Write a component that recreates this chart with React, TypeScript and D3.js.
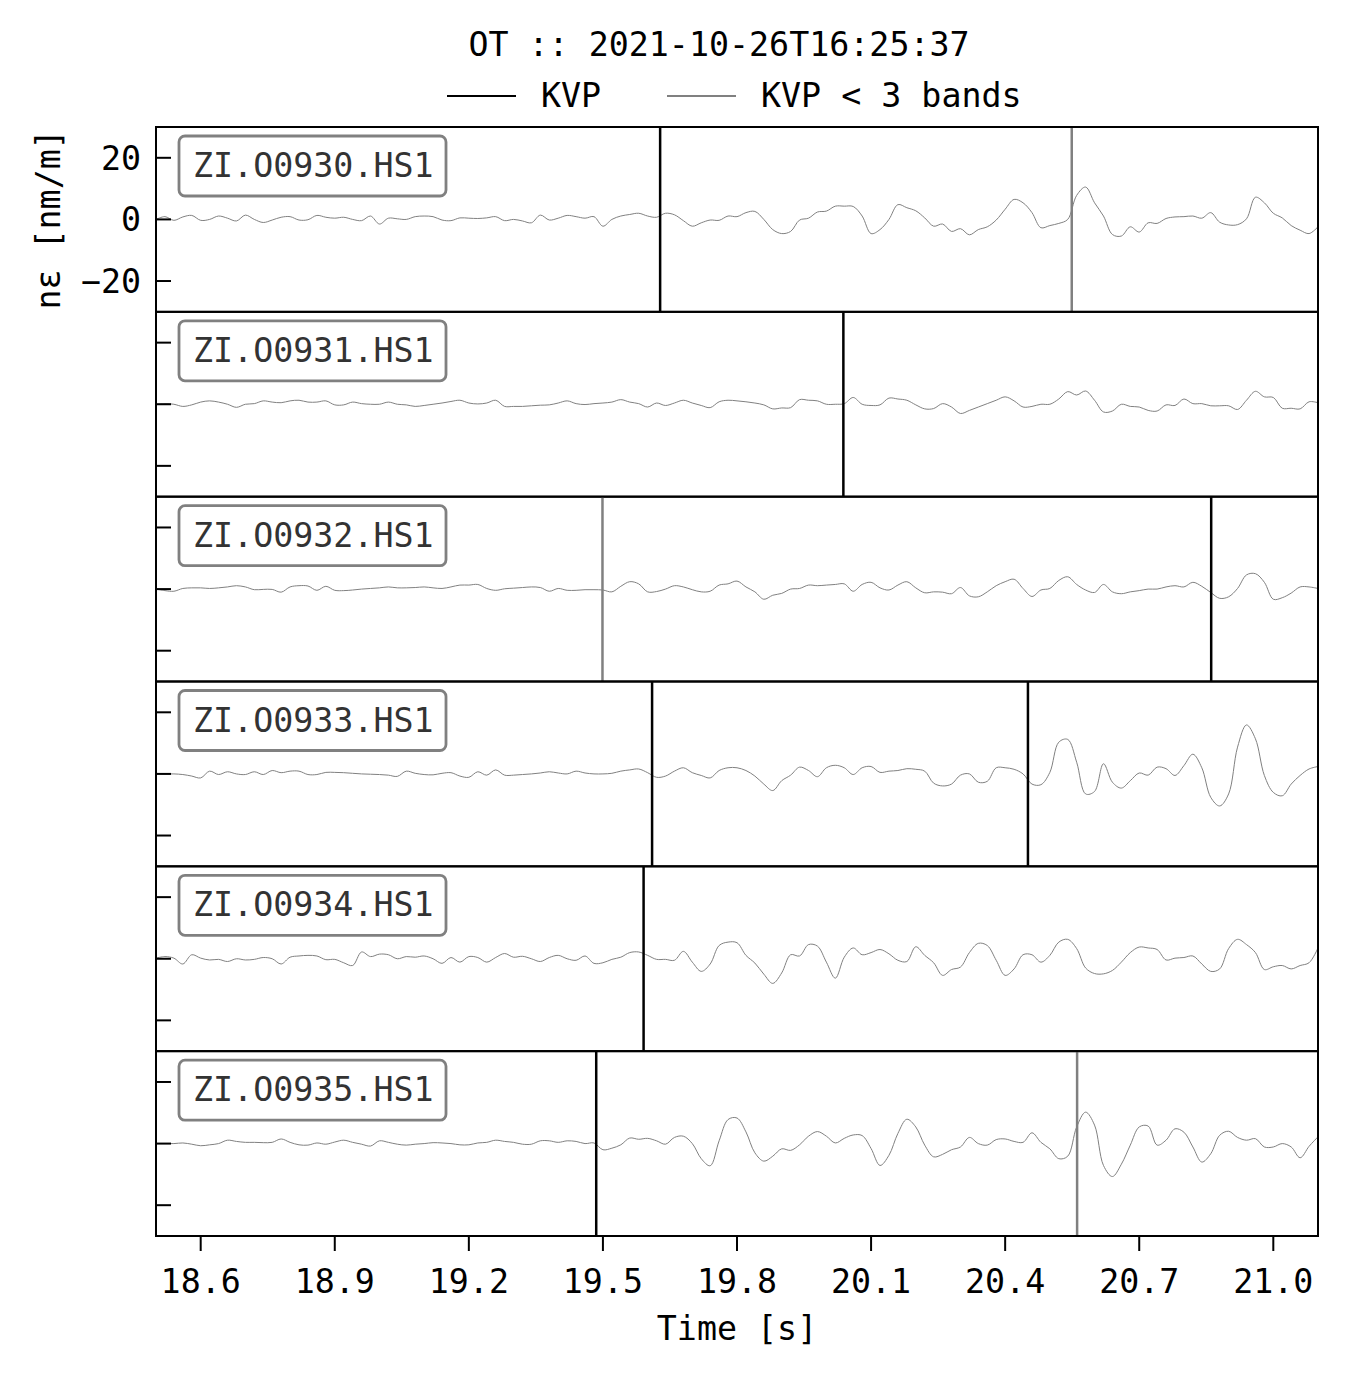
import { useEffect, useRef } from "react";
import * as d3 from "d3";

// sampling grid of the traces (s)
const T0 = 18.5;
const DT = 0.02;

const stations = [
  "ZI.O0930.HS1",
  "ZI.O0931.HS1",
  "ZI.O0932.HS1",
  "ZI.O0933.HS1",
  "ZI.O0934.HS1",
  "ZI.O0935.HS1",
];

// strain traces [nm/m], every 0.02 s from 18.5 s
const trace0930 = [
  0, 0.9, -0.3, 0.8, 1.3, -0.3, 0, 1.1, 0.4, -0.5, 1.4, 0, -1, -0.2, 0.7, 0.9, -0.2, -0.1, 1.3, 0.7,
  0.4, 0.7, 0, -0.4, 1.1, -1.5, 0.4, 0.2, 0, 0.9, 1.1, 0.9, -0.2, -0.4, 0.5, 0.4, 0.3, 0.5, 0.9, -0.4,
  0, -0.5, -1.1, 1.4, -0.2, 0.4, 1.3, 0.9, 0.4, 0.9, -2.2, 0, 1.1, 1.6, 2, 1.1, 0.7, 2, 1.5, -0.4,
  -2.2, -1.1, -0.2, -0.3, 1.1, 0.9,
  2.2, 2.6, 0, -3.3, -4.6, -3.9, -0.2, 0.4, 2.4, 2.7, 4.3, 4.3, 4.2, 1.1, -4.6, -3.3, 0, 4.8, 3.8, 2.8,
  0.5, -2.2, -1.5, -3.9, -3, -5, -3.3, -2.4, -0.2, 3.3, 6.5, 5.4, 2.2, -2.7, -2, -1.3, 0, 7.8, 10.5, 5.4,
  1.1, -4.9, -5.4, -2.4, -4.1, -1.1, -1.3, 0.3, 0.8, 0.9, 1.1, 0.4, 2.2, -0.9, -1.8, -1.7, 0.2, 7.2, 5.4, 2,
  0.5, -2, -3.5, -4.6, -2.4,
];
const trace0931 = [
  0, 0.2, 0, -0.7, -0.2, 0.7, 1.1, 0.7, 0, -1, 0, 0.2, 1.1, 0.7, 0.5, 1.1, 1.3, 0.7, 0.7, 1.1,
  -0.2, -0.2, 0.7, 0.2, 0, 0, 0.7, 0, -0.2, -0.7, -0.4, 0, 0.4, 0.9, 1.3, 0.4, 0.1, 0.4, 1.3, -0.7,
  -0.7, -0.7, -0.5, -0.3, -0.2, 0.4, 1.1, 0.2, -0.1, 0.2, 0.4, 0.7, 1.5, 0.7, 0.2, -0.9, 0.4, -0.4, 0.4, 1.3,
  0.4, -0.4, -1.1, 0.8, 1.3, 1.1,
  0.8, 0.4, -0.2, -1.5, -1.2, -1.1, 1.5, 1.3, 1.1, 0, 0, 0.2, 2.2, 0, -0.4, -0.2, 2, 1.7, 1.3, -0.2,
  -1.5, -1.4, 0.2, -0.9, -3, -2, -0.9, 0.2, 1.3, 2.4, 1.1, -0.9, -0.7, 0, 0, 1.7, 4.1, 3, 4.3, 1.3,
  -2.5, -2.2, 0, -0.7, -0.9, -2, -2.2, -0.2, -0.4, 1.7, 0.2, 0.2, -0.5, -0.5, -0.5, -1.7, 1.3, 4.2, 2.4, 2.2,
  -1.3, -1.3, -1.5, 0.8, 0.5,
];
const trace0932 = [
  0, -0.5, -0.7, 0.2, 0.4, 0.4, 0.2, 0.4, 0.7, 1.1, 0.7, -0.2, -0.1, -0.1, -1, 0.7, 1.1, 1, -0.4, 0.9,
  -0.4, -0.5, -0.3, 0, 0.2, 0.4, 0.7, 0.4, 0.4, 0.5, 0.7, 0.4, 0.2, 0.7, 1.3, 1.3, 1.5, 0.2, -0.4, 0.1,
  0.3, 0.5, 0.7, 0.5, -0.7, 0.2, -0.4, -0.4, -0.2, -0.2, -0.3, -0.9, 0.9, 2.4, 1.7, -0.9, -0.8, 0, 1.1, 0.7,
  -0.2, -0.9, -0.7, 1.3, 1.7, 2.6,
  0.7, -0.9, -3.3, -2, -1.4, 0, 0.2, 1.3, 1.1, 1.3, 1.5, 1.7, -0.7, 1.5, 2.2, 0.4, -0.3, 1.3, 2.4, 0.4,
  -1.2, -0.9, -1, -1.5, 0.5, -2.2, -2.5, -0.9, 1.1, 2.4, 3.2, 0.2, -2.4, -0.3, 0.2, 2.8, 4, 1.5, -0.3, -1.1,
  1.5, -0.9, -1.5, -0.9, -0.5, 0, 0, 0.7, 1.1, 0.7, 2.2, 0.9, -1.1, -3, -2.5, 0.2, 4.6, 5, 2.2, -3.3,
  -2.8, -1.3, 0.7, 0.7, 0.2,
];
const trace0933 = [
  0.2, 0, 0, -0.2, -0.7, -1.3, 0.9, -0.2, 0.7, 0, -0.2, 0.7, -0.2, 1.1, 0.4, 0.9, 0.9, -0.2, -0.2, 0.5,
  0.5, 0.4, 0.2, 0, -0.1, -0.2, -0.4, -0.8, 0.9, 0.2, -0.2, -0.3, 0.2, 0.4, -0.7, -1.1, 0.7, -0.4, 1.3, -0.4,
  -0.4, -0.2, 0, 0.3, 0.7, 0.3, 0, 0.9, 0.3, 0, 0, 0.2, 0.9, 1.3, 1.6, 0.4, -1.1, -0.7, 0.9, 2,
  0.4, -0.5, -1.3, 1.1, 2, 2,
  1.1, -0.7, -3.3, -5.4, -2.2, -0.4, 2.2, 1.1, -0.9, 2, 2.8, 2, -0.2, 2, 2.4, 0.5, 0.9, 1.1, 1.7, 1.5,
  0.9, -3, -3.9, -3.3, -0.4, 0, -2.7, -2.4, 2, 2, 1.5, 0, -3.3, -3.5, 0.5, 10.3, 11.2, 3.8, -6.5, -5.7,
  3.3, -2.7, -4.6, -2.2, 0.3, -0.4, 2.2, 1.7, -0.5, 2.7, 6.4, 2, -7.6, -10.4, -6.5, 8.7, 15.9, 11.4, -0.5, -6,
  -7.1, -3.3, -0.5, 1.6, 2.4,
];
const trace0934 = [
  0.2, 0.7, 0.2, -1.7, 1.3, 0.2, -0.4, -0.2, -0.9, 0, -0.4, -0.2, 0.4, 0, -1.7, 0.5, 0.9, 1.1, 0.9, -0.3,
  -0.2, -1.3, -2.2, 2.2, 0.7, 1.5, 1.3, 0, 0.7, 0.5, 0.9, 0, -1.5, 0.4, -1.1, 0.7, 0.4, -1.1, 0.4, 1.7,
  0.5, 0.8, 0, -0.9, 0.4, 1.1, 0, -0.5, 0.9, -1.5, -1.3, -0.2, 0.5, 2, 2.2, 1.1, -0.2, -0.2, -0.5, 2.4,
  -1.1, -4.1, -1.7, 4.3, 5.4, 5.2,
  1.1, -1.4, -5, -8, -4.6, 1.3, 0.9, 4.6, 4.1, -1.1, -6.3, 0.5, 3.5, 1.3, 2, 3, 1.6, -0.5, -0.9, 3.9,
  1.1, -1.3, -5.4, -3.5, -2.7, 2, 5, 4.3, -0.5, -5.4, -3.3, 1.3, 1.3, -1.1, 1.1, 5.4, 6.3, 3.3, -3, -4.8,
  -4.9, -3.8, -1.1, 2, 3.8, 3.5, 3, -0.4, 0.2, 0.4, 0.9, -1.7, -4.1, -3.3, 3.3, 6.3, 4.6, 2, -3.5, -2.6,
  -2.2, -3.3, -2.2, -1.3, 3.5,
];
const trace0935 = [
  0, 0, 0, 0.2, -0.2, -0.7, -0.4, 0, 1.1, 0.7, 0.4, 0.4, 0.3, 0.4, 1.5, 0.4, -0.4, -0.5, 0.2, -0.2,
  0.5, 1.1, 0.4, -0.2, -0.8, 0.9, 0.4, -0.2, -0.5, -0.2, 0, 0.3, 0.2, 0, -0.4, -0.4, 0.2, 0.4, 1.1, 0.7,
  0.4, -0.2, -0.2, 0.9, 0.9, 0.4, 0.9, 0.7, 0, 0.2, -2, -1.5, -0.4, 1.8, 1.4, 1.7, 0.9, -0.2, 2, 2.4,
  0, -4.9, -7.2, 0.9, 7.8, 8.3,
  3.8, -3, -5.7, -4.1, -1.7, -2.2, -0.4, 2.4, 3.9, 2.4, 0.2, 1.7, 2.8, 2.6, -1.6, -7.1, -3.8, 3.3, 7.9, 5.4,
  -0.5, -4.3, -3.5, -2, -1.1, 2, 0, -0.5, 1.3, 1.5, 0.7, 0.4, 3.5, 0.4, -1.7, -4.9, -4.1, 5.4, 10.2, 6,
  -7.1, -10.7, -6.7, -0.5, 5.4, 5.7, -0.5, 1.1, 4.8, 3.7, -1.1, -6, -3.3, 2.7, 4, 2, 1.1, 1.6, -1.1, -1.1,
  0, -1.1, -4.6, -0.9, 2.2,
];
const traces = [trace0930, trace0931, trace0932, trace0933, trace0934, trace0935];

// picks [s]
const kvpPicks = [[19.628], [20.038], [20.861], [19.61, 20.451], [19.591], [19.485]];
const kvp3Picks = [[20.549], [], [19.499], [], [], [20.561]];

const xTicks = [18.6, 18.9, 19.2, 19.5, 19.8, 20.1, 20.4, 20.7, 21.0];
const yTicks = [-20, 0, 20];

const FONT = "'DejaVu Sans Mono', monospace";
const FS = 33.3;

export default function App() {
  const ref = useRef<HTMLDivElement>(null);

  useEffect(() => {
    const W = 1348;
    const H = 1378;
    const left = 156;
    const right = 1318;
    const top = 127;
    const bottom = 1236;
    const ph = (bottom - top) / traces.length;

    d3.select(ref.current).selectAll("*").remove();
    const svg = d3
      .select(ref.current)
      .append("svg")
      .attr("width", W)
      .attr("height", H)
      .style("position", "absolute")
      .style("left", "0px")
      .style("top", "0px")
      .style("background", "#fff")
      .attr("font-family", FONT);

    const x = d3.scaleLinear().domain([18.5, 21.1]).range([left, right]);
    const y = d3.scaleLinear().domain([-30, 30]).range([ph, 0]);

    const line = d3
      .line<number>()
      .x((_, i) => x(T0 + i * DT))
      .y(d => y(d))
      .curve(d3.curveCatmullRom);

    traces.forEach((tr, i) => {
      const g = svg.append("g").attr("transform", `translate(0,${top + i * ph})`);
      const clipId = `clip-${i}`;
      g.append("clipPath")
        .attr("id", clipId)
        .append("rect")
        .attr("x", left)
        .attr("y", 0)
        .attr("width", right - left)
        .attr("height", ph);

      const body = g.append("g").attr("clip-path", `url(#${clipId})`);
      body
        .append("path")
        .attr("d", line(tr))
        .attr("fill", "none")
        .attr("stroke", "#808080")
        .attr("stroke-width", 1);

      body
        .selectAll(".kvp")
        .data(kvpPicks[i])
        .enter()
        .append("line")
        .attr("x1", d => x(d))
        .attr("x2", d => x(d))
        .attr("y1", 0)
        .attr("y2", ph)
        .attr("stroke", "#000")
        .attr("stroke-width", 2.5);

      body
        .selectAll(".kvp3")
        .data(kvp3Picks[i])
        .enter()
        .append("line")
        .attr("x1", d => x(d))
        .attr("x2", d => x(d))
        .attr("y1", 0)
        .attr("y2", ph)
        .attr("stroke", "#808080")
        .attr("stroke-width", 2.5);

      // inward y ticks
      g.selectAll(".ytick")
        .data(yTicks)
        .enter()
        .append("line")
        .attr("x1", left)
        .attr("x2", left + 15)
        .attr("y1", d => y(d))
        .attr("y2", d => y(d))
        .attr("stroke", "#000")
        .attr("stroke-width", 2);

      if (i === 0) {
        g.selectAll(".ylab")
          .data(yTicks)
          .enter()
          .append("text")
          .attr("x", left - 15)
          .attr("y", d => y(d))
          .attr("dy", "0.36em")
          .attr("text-anchor", "end")
          .attr("font-size", FS)
          .text(d => (d < 0 ? `\u2212${Math.abs(d)}` : `${d}`));
      }

      // station label
      g.append("rect")
        .attr("x", 179)
        .attr("y", 9)
        .attr("width", 267)
        .attr("height", 60)
        .attr("rx", 6)
        .attr("fill", "#fff")
        .attr("stroke", "#808080")
        .attr("stroke-width", 2.8);
      g.append("text")
        .attr("x", 193)
        .attr("y", 50)
        .attr("font-size", FS)
        .attr("fill", "#333")
        .text(stations[i]);

      g.append("rect")
        .attr("x", left)
        .attr("y", 0)
        .attr("width", right - left)
        .attr("height", ph)
        .attr("fill", "none")
        .attr("stroke", "#000")
        .attr("stroke-width", 2);
    });

    // x axis
    const xa = svg.append("g");
    xa.selectAll("line")
      .data(xTicks)
      .enter()
      .append("line")
      .attr("x1", d => x(d))
      .attr("x2", d => x(d))
      .attr("y1", bottom)
      .attr("y2", bottom + 15)
      .attr("stroke", "#000")
      .attr("stroke-width", 2);
    xa.selectAll("text")
      .data(xTicks)
      .enter()
      .append("text")
      .attr("x", d => x(d))
      .attr("y", 1293)
      .attr("text-anchor", "middle")
      .attr("font-size", FS)
      .text(d => d.toFixed(1));

    svg
      .append("text")
      .attr("x", (left + right) / 2)
      .attr("y", 1340)
      .attr("text-anchor", "middle")
      .attr("font-size", FS)
      .text("Time [s]");

    svg
      .append("text")
      .attr("transform", `translate(60,${top + ph / 2}) rotate(-90)`)
      .attr("text-anchor", "middle")
      .attr("font-size", FS)
      .text("n\u03b5 [nm/m]");

    // title + legend
    svg
      .append("text")
      .attr("x", 719)
      .attr("y", 56)
      .attr("text-anchor", "middle")
      .attr("font-size", FS)
      .text("OT :: 2021-10-26T16:25:37");

    const legend = [
      { label: "KVP", color: "#000", x0: 447 },
      { label: "KVP < 3 bands", color: "#808080", x0: 667 },
    ];
    const lg = svg.append("g");
    legend.forEach(l => {
      lg.append("line")
        .attr("x1", l.x0)
        .attr("x2", l.x0 + 69)
        .attr("y1", 96)
        .attr("y2", 96)
        .attr("stroke", l.color)
        .attr("stroke-width", 2);
      lg.append("text")
        .attr("x", l.x0 + 94)
        .attr("y", 107)
        .attr("font-size", FS)
        .text(l.label);
    });
  }, []);

  return <div ref={ref}></div>;
}
